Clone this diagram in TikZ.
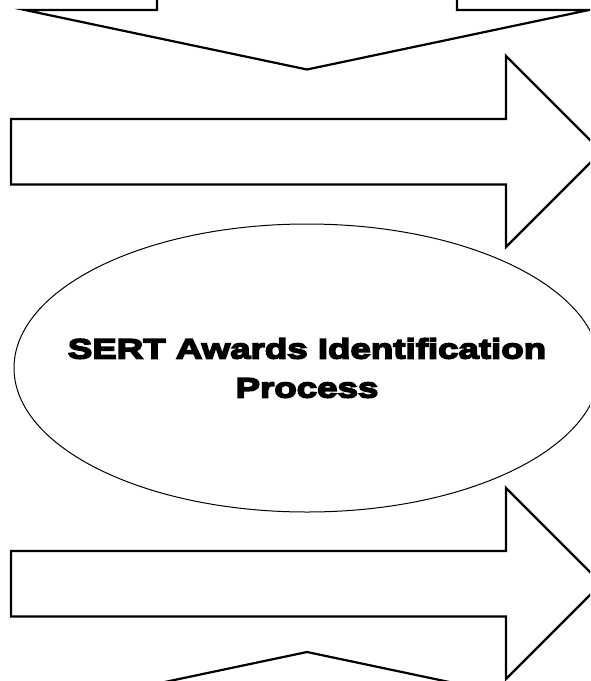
\documentclass[tikz,border=0pt]{standalone}
\usepackage{fontspec}
\usepackage{tikz}
\newfontfamily\heavyfont{Liberation Sans Bold}[FakeBold=5.5,FakeStretch=1.31]
\tikzset{
	blockarrow/.style={draw=black, line width=2.2pt, line join=miter},
	bubble/.style={draw=black, line width=1pt},
	bubbletext/.style={align=center, inner sep=0pt,
		font=\heavyfont\fontsize{28}{39}\selectfont},
}
\begin{document}
\begin{tikzpicture}[x=1pt, y=-1pt]
	\useasboundingbox (0,0) rectangle (590,681);
	\clip (0,0) rectangle (590,681);
	% arrow coming down from the top
	\draw[blockarrow] (157,-5)--(157,10)--(25,10)--(307,69.5)--(589,10)--(457,10)--(457,-5);
	% the two arrows pointing right
	\draw[blockarrow] (11,119)--(506,119)--(506,56)--(601.5,151.5)--(506,247)--(506,184.5)--(11,184.5)--cycle;
\begin{scope}[shift={(0,432)}]
	\draw[blockarrow] (11,119)--(506,119)--(506,56)--(601.5,151.5)--(506,247)--(506,184.5)--(11,184.5)--cycle;
\end{scope}
	% arrow coming up from the bottom
	\draw[blockarrow] (25,711.5)--(307,652)--(589,711.5);
	\node[bubbletext] (award) at (307,368) {SERT Awards Identification\\Process};
	\draw[bubble] (award.center) ellipse [x radius=293, y radius=144];
\end{tikzpicture}
\end{document}
